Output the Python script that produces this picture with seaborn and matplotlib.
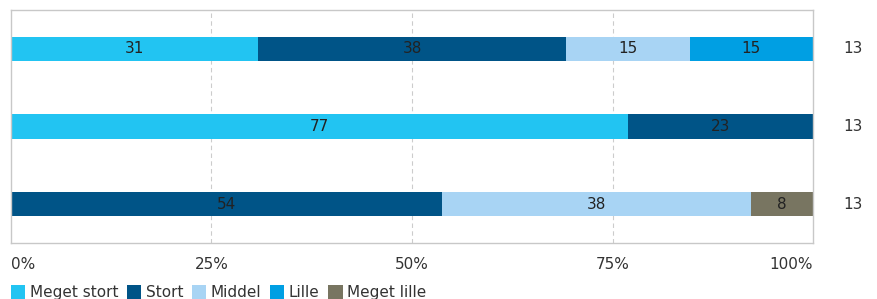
import pandas as pd
import numpy as np
import matplotlib.pyplot as plt
import seaborn as sns
from matplotlib.patches import Patch

# data
rows = ["r1", "r2", "r3"]
levels = ["Meget stort", "Stort", "Middel", "Lille", "Meget lille"]
meget_stort = [30.8, 76.9, 0.0]
stort = [38.4, 23.1, 53.8]
middel = [15.4, 0.0, 38.5]
lille = [15.4, 0.0, 0.0]
meget_lille = [0.0, 0.0, 7.7]
n_resp = [13, 13, 13]
colors = ["#22c4f2", "#005487", "#a8d4f4", "#009fe3", "#787561"]

df = pd.DataFrame({"row": rows, "Meget stort": meget_stort, "Stort": stort,
                   "Middel": middel, "Lille": lille, "Meget lille": meget_lille})
cum = df[levels].cumsum(axis=1)
cum["row"] = rows

sns.set_theme(style="white")
plt.rcParams['font.family'] = ['DejaVu Sans']

fig = plt.figure(figsize=(8.78, 2.99), dpi=100)
ax = fig.add_axes([0.0125, 0.187, 0.926 - 0.0125, 0.9666 - 0.187])

# stacked bars: draw longest cumulative first so shorter ones overlay
for lev, col in reversed(list(zip(levels, colors))):
    sns.barplot(data=cum, x=lev, y="row", color=col, orient="h", width=0.31,
                saturation=1, ax=ax, linewidth=0)

# segment labels
for i in range(len(rows)):
    left = 0
    for lev in levels:
        v = df.loc[i, lev]
        if v > 0:
            ax.text(left + v / 2, i, f"{v:.0f}", ha="center", va="center",
                    fontsize=11, color="#222222")
        left += v
    ax.text(105, i, str(n_resp[i]), ha="center", va="center", fontsize=11,
            color="#333333", clip_on=False)

ax.set_xlim(0, 100)
ax.set_ylim(2.5, -0.5)
ax.set_xlabel("")
ax.set_ylabel("")
ax.set_yticks([])
ax.set_xticks([0, 25, 50, 75, 100])
ax.set_xticklabels(["0%", "25%", "50%", "75%", "100%"], fontsize=11, color="#333333")
ax.get_xticklabels()[0].set_ha("left")
ax.get_xticklabels()[-1].set_ha("right")
ax.tick_params(axis="x", length=0, pad=10)
for x in [25, 50, 75]:
    ax.axvline(x, color="#cccccc", linestyle=(0, (4, 3)), linewidth=0.8, zorder=0)
for s in ax.spines.values():
    s.set_color("#c8c8c8")
    s.set_linewidth(1)

handles = [Patch(facecolor=c, edgecolor="none") for c in colors]
fig.legend(handles, levels, loc="lower left", bbox_to_anchor=(0.0, -0.04),
           ncol=5, frameon=False, fontsize=11, handlelength=0.95, handleheight=0.95,
           handletextpad=0.3, columnspacing=0.55, labelcolor="#333333",
           borderaxespad=0.3)

fig.savefig("out.png", dpi=100)
